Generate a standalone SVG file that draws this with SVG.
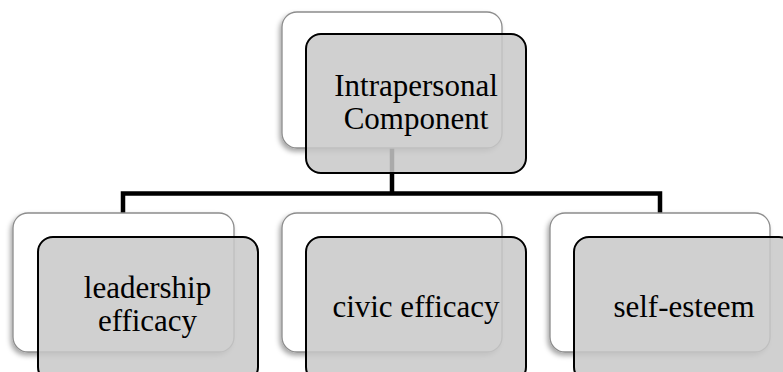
<svg xmlns="http://www.w3.org/2000/svg" width="783" height="372" viewBox="0 0 783 372">
<defs>
<filter id="sh" x="-10%" y="-10%" width="125%" height="130%">
<feDropShadow dx="-2" dy="3" stdDeviation="2.5" flood-color="#000" flood-opacity="0.35"/>
</filter>
</defs>
<style>
.back{fill:#ffffff;stroke:#8c8c8c;stroke-width:1.3}
.front{fill:#c8c8c8;fill-opacity:0.85;stroke:#000;stroke-width:2}
.lbl{font-family:"Liberation Serif","Times New Roman",serif;font-size:31px;fill:#000;text-anchor:middle}
.conn{fill:none;stroke:#000;stroke-width:4.5;stroke-linejoin:miter}
</style>
<rect width="783" height="372" fill="#fff"/>
<g id="connectors">
<path class="conn" d="M392,148 V193.5 M123,213 V193.5 H660 V213"/>
</g>
<g id="n-intrapersonal">
<rect class="back" x="282" y="12" width="220" height="136" rx="15" filter="url(#sh)"/>
<rect class="front" x="306" y="34" width="220" height="139" rx="15"/>
<text class="lbl" x="416" y="96">Intrapersonal</text>
<text class="lbl" x="416" y="129">Component</text>
</g>
<g id="n-leadership">
<rect class="back" x="13" y="213" width="221" height="139" rx="15" filter="url(#sh)"/>
<rect class="front" x="38" y="237" width="220" height="145" rx="15"/>
<text class="lbl" x="147.5" y="298">leadership</text>
<text class="lbl" x="147.5" y="331">efficacy</text>
</g>
<g id="n-civic">
<rect class="back" x="282" y="213" width="220" height="139" rx="15" filter="url(#sh)"/>
<rect class="front" x="306" y="237" width="220" height="145" rx="15"/>
<text class="lbl" x="416" y="317">civic efficacy</text>
</g>
<g id="n-selfesteem">
<rect class="back" x="550" y="213" width="220" height="139" rx="15" filter="url(#sh)"/>
<rect class="front" x="574" y="237" width="220" height="145" rx="15"/>
<text class="lbl" x="684" y="317">self-esteem</text>
</g>
</svg>
